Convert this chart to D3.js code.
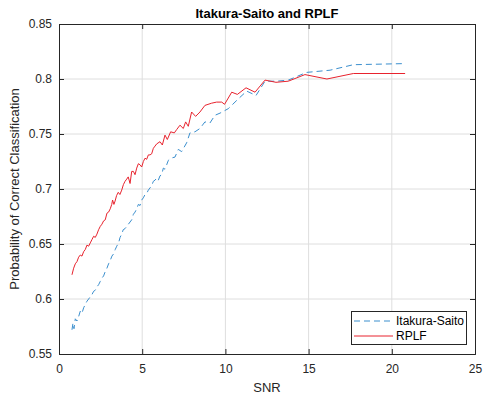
<!DOCTYPE html>
<html><head><meta charset="utf-8">
<script src="https://cdn.jsdelivr.net/npm/d3@7"></script>
<style>body{margin:0;background:#fff;} text{font-family:"Liberation Sans",Arial,sans-serif;}</style>
</head><body><svg id="c" width="483" height="398"></svg>
<script>
const xTicks = [0,5,10,15,20,25];
const yTicks = [0.55,0.6,0.65,0.7,0.75,0.8,0.85];
const yTickLabels = ["0.55","0.6","0.65","0.7","0.75","0.8","0.85"];
const seriesNames = ["Itakura-Saito","RPLF"];

const isSnr = [0.78,0.84,0.90,0.98,1.08,1.18,1.28,1.38,1.48,1.58,1.68,1.78,1.88,1.98,2.08,2.18,2.28,2.38,2.48,2.58,2.68,2.78,2.88,2.98,3.08,3.18,3.28,3.38,3.47,3.58,3.67,3.77,3.86,3.97,4.07,4.17,4.27,4.37,4.47,4.57,4.67,4.77,4.87,4.97,5.07,5.17,5.27,5.37,5.47,5.57,5.67,5.77,5.87,5.97,6.07,6.17,6.27,6.37,6.47,6.57,6.71,6.97,7.17,7.37,7.67,7.87,8.17,8.47,8.77,9.07,9.37,9.68,10.17,10.78,11.28,11.84,12.38,13.08,13.78,14.88,16.29,17.69,20.8];
const isVal = [0.572,0.578,0.573,0.582,0.580,0.584,0.589,0.587,0.592,0.595,0.598,0.600,0.602,0.604,0.607,0.608,0.611,0.613,0.616,0.619,0.621,0.625,0.628,0.632,0.635,0.639,0.641,0.645,0.648,0.651,0.656,0.659,0.663,0.664,0.666,0.668,0.670,0.672,0.677,0.679,0.682,0.686,0.685,0.690,0.692,0.695,0.696,0.699,0.701,0.703,0.707,0.708,0.710,0.708,0.712,0.713,0.719,0.718,0.722,0.726,0.728,0.729,0.736,0.734,0.742,0.751,0.752,0.755,0.761,0.760,0.767,0.769,0.773,0.782,0.789,0.785,0.798,0.798,0.799,0.806,0.808,0.813,0.814];

const rpSnr = [0.78,0.88,0.98,1.08,1.18,1.28,1.38,1.48,1.58,1.68,1.78,1.88,1.98,2.08,2.18,2.28,2.38,2.48,2.58,2.68,2.78,2.88,2.98,3.08,3.17,3.22,3.30,3.37,3.46,3.56,3.66,3.77,3.87,3.97,4.07,4.16,4.27,4.37,4.47,4.57,4.67,4.77,4.87,4.97,5.07,5.17,5.27,5.37,5.47,5.57,5.67,5.77,5.87,6.07,6.21,6.37,6.51,6.71,6.93,7.07,7.27,7.47,7.61,7.77,7.97,8.21,8.47,8.77,9.17,9.47,9.78,9.95,10.38,10.72,11.24,11.78,12.38,13.04,13.78,14.78,16.1,17.69,20.8];
const rpVal = [0.622,0.628,0.632,0.634,0.638,0.640,0.639,0.643,0.645,0.649,0.648,0.651,0.654,0.657,0.656,0.659,0.663,0.666,0.668,0.671,0.672,0.678,0.679,0.682,0.686,0.690,0.686,0.689,0.694,0.697,0.695,0.699,0.704,0.707,0.709,0.711,0.705,0.716,0.716,0.713,0.719,0.723,0.722,0.720,0.725,0.728,0.727,0.731,0.731,0.732,0.737,0.739,0.741,0.743,0.740,0.749,0.745,0.752,0.751,0.754,0.758,0.755,0.761,0.757,0.770,0.766,0.770,0.776,0.778,0.779,0.779,0.777,0.788,0.786,0.792,0.788,0.799,0.797,0.798,0.804,0.800,0.805,0.805];

const L=59, R=475, T=24, B=354;
const svg = d3.select("#c");
const x = d3.scaleLinear().domain([0,25]).range([L,R]);
const y = d3.scaleLinear().domain([0.55,0.85]).range([B,T]);
const axisCol = "#262626";

// grid
const g = svg.append("g");
g.selectAll(".gx").data(xTicks.slice(1,-1)).enter().append("line")
  .attr("x1",d=>x(d)).attr("x2",d=>x(d)).attr("y1",T).attr("y2",B)
  .attr("stroke","#dedede").attr("stroke-width",1);
g.selectAll(".gy").data(yTicks.slice(1,-1)).enter().append("line")
  .attr("y1",d=>y(d)).attr("y2",d=>y(d)).attr("x1",L).attr("x2",R)
  .attr("stroke","#dedede").attr("stroke-width",1);

// lines
const line = d3.line().x(d=>x(d[0])).y(d=>y(d[1]));
const isData = isSnr.map((s,i)=>[s,isVal[i]]);
const rpData = rpSnr.map((s,i)=>[s,rpVal[i]]);
svg.append("path").datum(isData).attr("d",line).attr("fill","none")
  .attr("stroke","#3b8fce").attr("stroke-width",1).attr("stroke-dasharray","6,4");
svg.append("path").datum(rpData).attr("d",line).attr("fill","none")
  .attr("stroke","#e8232e").attr("stroke-width",1);

// axes
const xb = svg.append("g").attr("transform",`translate(0,${B})`)
  .call(d3.axisBottom(x).tickValues(xTicks).tickSize(-5).tickPadding(10).tickFormat(d3.format("d")));
const xt = svg.append("g").attr("transform",`translate(0,${T})`)
  .call(d3.axisTop(x).tickValues(xTicks).tickSize(-5).tickFormat(""));
const yl = svg.append("g").attr("transform",`translate(${L},0)`)
  .call(d3.axisLeft(y).tickValues(yTicks).tickSize(-5).tickPadding(7).tickFormat((d,i)=>yTickLabels[i]));
const yr = svg.append("g").attr("transform",`translate(${R},0)`)
  .call(d3.axisRight(y).tickValues(yTicks).tickSize(-5).tickFormat(""));
[xb,xt,yl,yr].forEach(a=>{
  a.selectAll("path").attr("stroke",axisCol).attr("stroke-width",1);
  a.selectAll("line").attr("stroke",axisCol);
  a.selectAll("text").attr("fill",axisCol).style("font-size","12px").style("font-family","'Liberation Sans',Arial,sans-serif");
});

// titles
svg.append("text").attr("x",(L+R)/2).attr("y",18).attr("text-anchor","middle")
  .style("font-size","13px").style("font-weight","bold").attr("fill","#000").text("Itakura-Saito and RPLF");
svg.append("text").attr("x",(L+R)/2).attr("y",392).attr("text-anchor","middle")
  .style("font-size","13px").attr("fill",axisCol).text("SNR");
svg.append("text").attr("transform",`translate(19,${(T+B)/2}) rotate(-90)`).attr("text-anchor","middle")
  .style("font-size","13px").attr("fill",axisCol).text("Probability of Correct Classification");

// legend
const lg = svg.append("g");
lg.append("rect").attr("x",351.5).attr("y",311.5).attr("width",115).attr("height",33)
  .attr("fill","#fff").attr("stroke",axisCol).attr("stroke-width",1);
const lcol = ["#3b8fce","#e8232e"], ldash=["6,4",null];
seriesNames.forEach((n,i)=>{
  const yy = 321 + i*15;
  lg.append("line").attr("x1",354).attr("x2",393).attr("y1",yy).attr("y2",yy)
    .attr("stroke",lcol[i]).attr("stroke-width",1).attr("stroke-dasharray",ldash[i]);
  lg.append("text").attr("x",396).attr("y",yy+4).style("font-size","12px").attr("fill","#000").text(n);
});
</script></body></html>
